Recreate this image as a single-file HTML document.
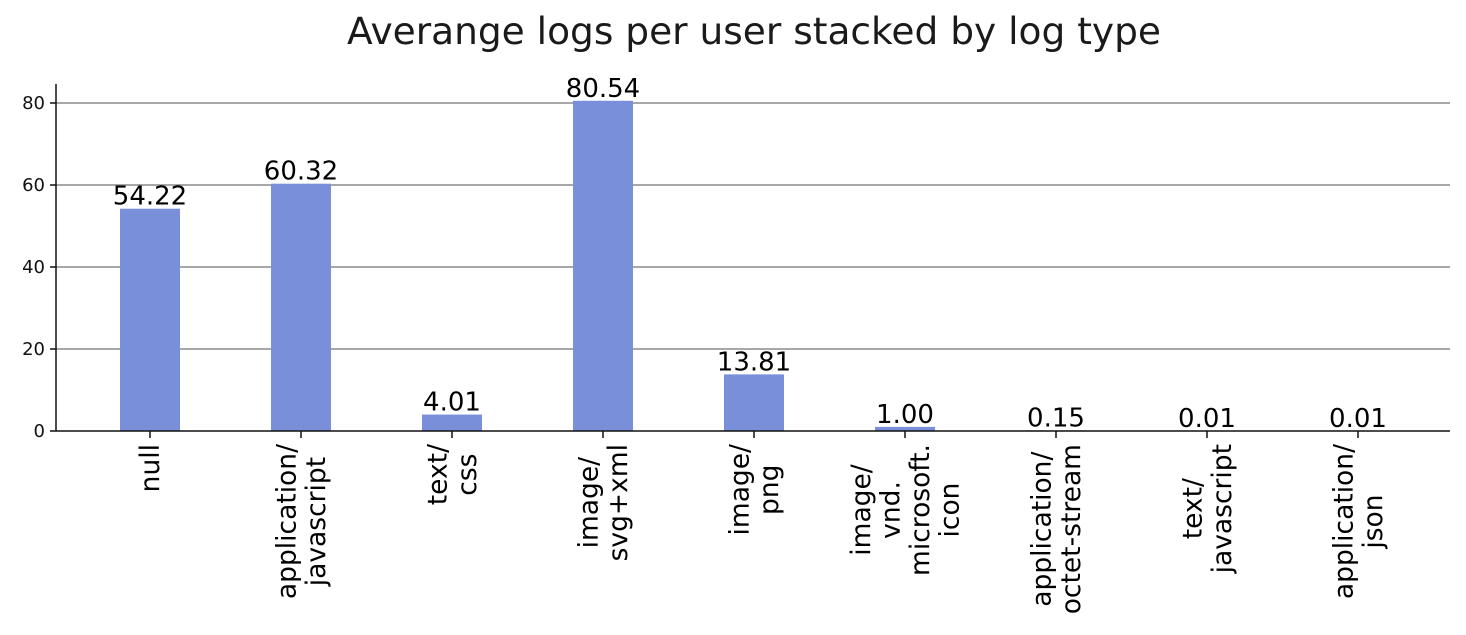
<!DOCTYPE html>
<html><head><meta charset="utf-8"><style>
body{margin:0;background:#fff;}
svg{display:block;font-family:"DejaVu Sans","Liberation Sans",sans-serif;}
</style></head><body>
<svg id="chart" width="1466" height="635">
<text x="754" y="44" font-size="37.5" text-anchor="middle" fill="#1a1a1a">Averange logs per user stacked by log type</text>
<g id="grid"></g><g id="bars"></g><g id="axes"></g>
</svg>
<script>
const categories = ["null","application/\njavascript","text/\ncss","image/\nsvg+xml","image/\npng","image/\nvnd.\nmicrosoft.\nicon","application/\noctet-stream","text/\njavascript","application/\njson"];
const values = [54.22,60.32,4.01,80.54,13.81,1.00,0.15,0.01,0.01];
const yTicks = [0,20,40,60,80];
const NS="http://www.w3.org/2000/svg";
const x0=56,x1=1450,yBase=431,yTop=84;
const yScale=v=>yBase-v*(328/80);
const xScale=i=>150+i*151;
const barW=60;
function mk(tag,attrs,parent){const e=document.createElementNS(NS,tag);for(const k in attrs)e.setAttribute(k,attrs[k]);parent.appendChild(e);return e;}
const grid=document.getElementById('grid'),bars=document.getElementById('bars'),axes=document.getElementById('axes');
yTicks.forEach(t=>{
  const y=yScale(t);
  if(t>0){const g=mk('line',{x1:x0,x2:x1,y1:y,y2:y,stroke:'#8c8c8c','stroke-width':1.5},grid);
  
  }
  mk('line',{x1:x0-6,x2:x0,y1:y,y2:y,stroke:'#111','stroke-width':1.5},axes);
  const tl=mk('text',{x:x0-11,y:y+6,'font-size':18,'text-anchor':'end',fill:'#111'},axes);
  tl.textContent=t;
  
  
});
values.forEach((v,i)=>{
  const cx=xScale(i);
  const r=mk('rect',{x:cx-barW/2,y:yScale(v),width:barW,height:yBase-yScale(v),fill:'#7a8fd9'},bars);
  
  
  const vl=mk('text',{x:cx,y:yScale(v)-4,'font-size':26,'text-anchor':'middle',fill:'#000'},bars);
  vl.textContent=v.toFixed(2);
  
  
  mk('line',{x1:cx,x2:cx,y1:yBase,y2:yBase+7,stroke:'#111','stroke-width':1.5},axes);
  const lines=categories[i].split('\n');
  const g=mk('g',{},axes);
  
  
  const texts=lines.map((ln,j)=>{
    const t=mk('text',{'font-size':26.5,'text-anchor':'middle',fill:'#000'},g);
    t.textContent=ln;return t;});
  let W=0;texts.forEach(t=>W=Math.max(W,t.getComputedTextLength()));
  texts.forEach((t,j)=>{
    const off=(j-(lines.length-1)/2)*29.5;
    t.setAttribute('x',-W/2);t.setAttribute('y',off+9);
  });
  g.setAttribute('transform',`translate(${cx},444) rotate(-90)`);
});
mk('line',{x1:x0,x2:x0,y1:yTop,y2:yBase,stroke:'#111','stroke-width':1.5},axes);
mk('line',{x1:x0,x2:x1,y1:yBase,y2:yBase,stroke:'#111','stroke-width':1.5},axes);
</script>
</body></html>
